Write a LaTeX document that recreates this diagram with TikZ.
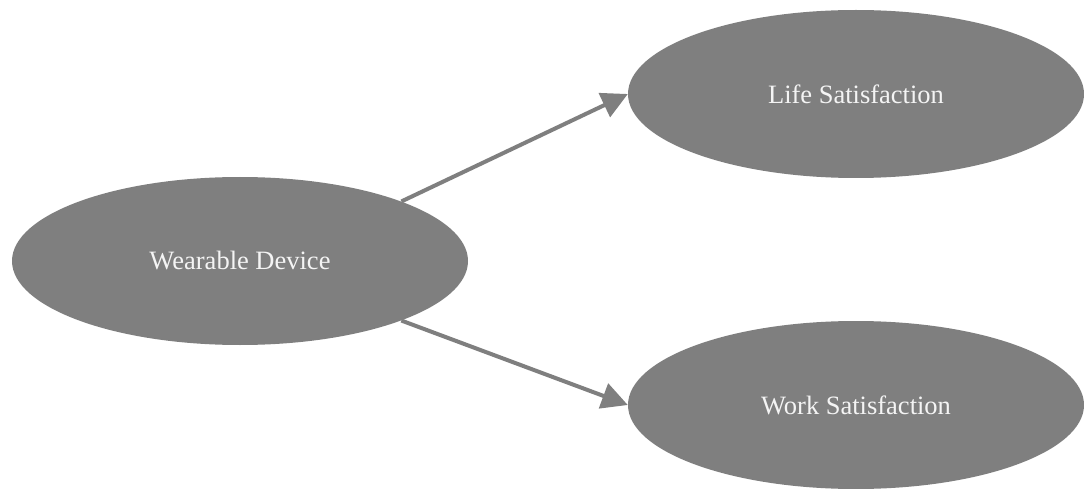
\documentclass[tikz,border=0pt]{standalone}
\usepackage{fontspec}
\setmainfont{Liberation Serif}
\usetikzlibrary{shapes.geometric,arrows.meta}
\definecolor{nodegray}{HTML}{7F7F7F}
\definecolor{labelwhite}{HTML}{F4F4F4}
\begin{document}
\begin{tikzpicture}[x=1pt,y=-1pt,
  construct/.style={ellipse, fill=nodegray, draw=none, inner sep=0pt,
    minimum width=456pt, minimum height=168pt,
    text=labelwhite, font=\fontsize{26.5}{31}\selectfont},
  path/.style={draw=nodegray, line width=4pt,
    -{Triangle[length=26pt,width=26pt]}}]
  \useasboundingbox (0,0) rectangle (1084,489);
  \node[construct] (wd) at (240,261) {Wearable Device};
  \node[construct] (ls) at (856,94) {Life Satisfaction};
  \node[construct] (ws) at (856,405) {Work Satisfaction};
  \draw[path] (wd.north east) -- (ls.west);
  \draw[path] (wd.south east) -- (ws.west);
\end{tikzpicture}
\end{document}
